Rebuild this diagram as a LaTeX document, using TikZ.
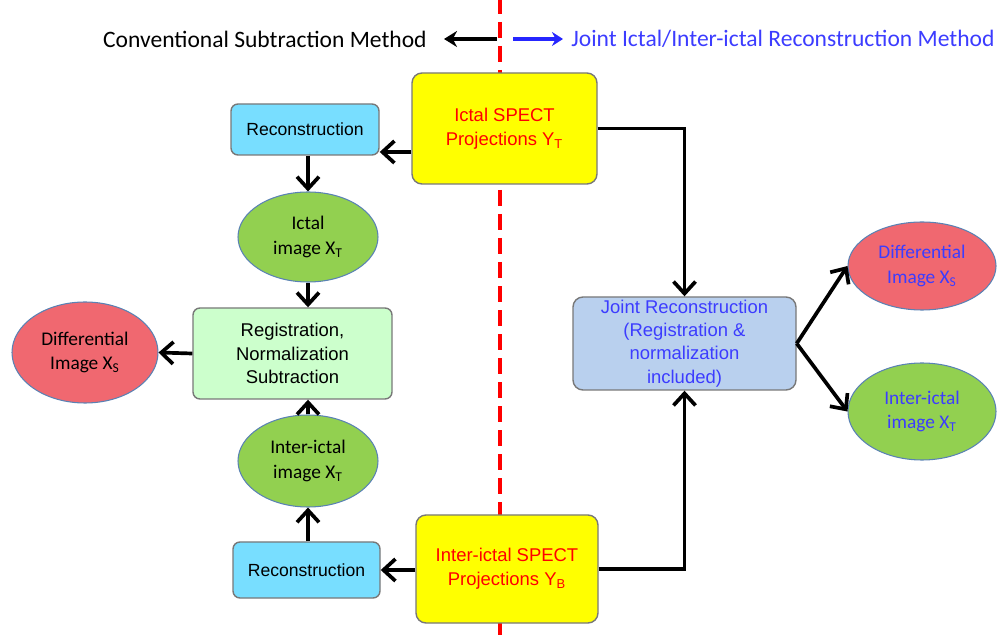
\documentclass[tikz,border=0pt]{standalone}
\usepackage{fontspec}
\setmainfont{Liberation Sans}
\newfontfamily\calib{Carlito}
\usetikzlibrary{arrows.meta,shapes.geometric,calc}
\definecolor{boxyellow}{RGB}{255,255,0}
\definecolor{boxcyan}{RGB}{120,222,255}
\definecolor{boxmint}{RGB}{204,255,204}
\definecolor{boxsteel}{RGB}{185,208,238}
\definecolor{ellgreen}{RGB}{146,208,80}
\definecolor{ellred}{RGB}{240,104,112}
\definecolor{txtblue}{RGB}{60,60,255}
\definecolor{bordgray}{RGB}{120,120,120}
\definecolor{ellbord}{RGB}{90,130,180}
\tikzset{
  box/.style={draw=bordgray, line width=0.8pt, rounded corners=2mm, align=center, inner sep=0pt},
  smallbox/.style={box, rounded corners=1.4mm, fill=boxcyan, font=\fontsize{10}{12}\selectfont},
  spect/.style={box, fill=boxyellow, text=red, font=\fontsize{10.5}{13.5}\selectfont},
  ell/.style={ellipse, draw=ellbord, line width=0.6pt, align=center, inner sep=0pt, font=\calib\fontsize{11}{14}\selectfont},
  arr/.style={line width=2.1pt, -{Straight Barb[length=2.4mm, width=4.4mm, line width=2.1pt]}},
}
\begin{document}
\begin{tikzpicture}[x=0.2mm, y=-0.2mm]
\useasboundingbox (0,0) rectangle (1000,635);
% divider
\draw[red, line width=1.8pt, dash pattern=on 3.2mm off 1.6mm] (500,-2) -- (500,637);
% header
\coordinate (hl) at (497,39);
\coordinate (hle) at (444,39);
\coordinate (hr) at (513,39);
\coordinate (hre) at (563,39);
\draw[line width=2.2pt, -{Stealth[length=2.6mm, width=3.2mm]}] (hl) -- (hle);
\draw[line width=1.8pt, blue!85!white, -{Stealth[length=2.2mm, width=2.8mm]}] (hr) -- (hre);
\node[anchor=east, font=\calib\fontsize{13.4}{16}\selectfont, inner sep=0pt] (hlt) at (427,39) {Conventional Subtraction Method};
\node[anchor=west, font=\calib\fontsize{13.4}{16}\selectfont, text=txtblue, inner sep=0pt] (hrt) at (571,39) {Joint Ictal/Inter-ictal Reconstruction Method};
% nodes
\node[spect, minimum width=37mm, minimum height=22.2mm] (ictal) at (504.5,128.5) {Ictal SPECT\\Projections Y\textsubscript{T}};
\node[spect, minimum width=36.4mm, minimum height=21.6mm] (inter) at (507,569) {Inter-ictal SPECT\\Projections Y\textsubscript{B}};
\node[smallbox, minimum width=29.6mm, minimum height=10.2mm] (rec1) at (305,129.5) {Reconstruction};
\node[smallbox, minimum width=29.4mm, minimum height=11.2mm] (rec2) at (306.5,570) {Reconstruction};
\node[ell, fill=ellgreen, minimum width=28mm, minimum height=18mm] (ictimg) at (308,237) {Ictal\\image X\textsubscript{T}};
\node[ell, fill=ellgreen, minimum width=28mm, minimum height=18.4mm] (intimg) at (308,461) {Inter-ictal\\image X\textsubscript{T}};
\node[box, fill=boxmint, rounded corners=1.4mm, minimum width=39.8mm, minimum height=18.2mm, font=\fontsize{10.5}{13.5}\selectfont] (reg) at (292.5,353.5) {Registration,\\Normalization\\Subtraction};
\node[ell, fill=ellred, minimum width=29.2mm, minimum height=20.2mm] (diffL) at (85,352.5) {Differential\\Image X\textsubscript{S}};
\node[box, fill=boxsteel, minimum width=44.6mm, minimum height=18.6mm, text=txtblue, font=\fontsize{10.5}{13.2}\selectfont] (joint) at (684.5,343.5) {Joint Reconstruction\\(Registration \&\\normalization\\included)};
\node[ell, fill=ellred, text=txtblue, minimum width=29.6mm, minimum height=17.6mm] (diffR) at (922,266) {Differential\\Image X\textsubscript{S}};
\node[ell, fill=ellgreen, text=txtblue, minimum width=29.6mm, minimum height=19.4mm] (intR) at (922,411.5) {Inter-ictal\\image X\textsubscript{T}};
% connectors
\coordinate (y152) at (0,152);
\coordinate (xcol) at (308,0);
\draw[arr] (ictal.west |- y152) -- (rec1.east |- y152);
\draw[arr] (rec1.south -| xcol) -- (ictimg.north);
\draw[arr] (ictimg.south) -- (reg.north -| xcol);
\draw[arr] (reg.west) -- (diffL.east);
\draw[arr] (intimg.north) -- (reg.south -| xcol);
\draw[arr] (rec2.north -| xcol) -- (intimg.south);
\draw[arr] (inter.west |- rec2.east) -- (rec2.east);
\draw[arr] (ictal.east) -| (joint.north);
\draw[arr] (inter.east) -| (joint.south);
\draw[arr] (joint.east) -- (diffR.west);
\draw[arr] (joint.east) -- (intR.west);
\end{tikzpicture}
\end{document}
